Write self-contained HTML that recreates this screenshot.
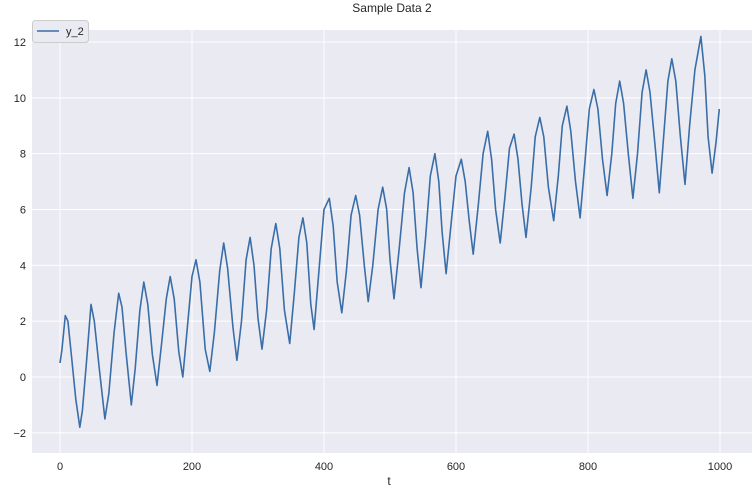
<!DOCTYPE html>
<html><head><meta charset="utf-8">
<style>
body{margin:0;background:#fff;font-family:"Liberation Sans",sans-serif;}
svg text{font-family:"Liberation Sans",sans-serif;fill:#262626;}
</style></head>
<body>
<svg id="chart" width="755" height="491" viewBox="0 0 755 491" xmlns="http://www.w3.org/2000/svg">
<rect x="32" y="30" width="720" height="423" fill="#EAEAF2"/>
<g id="grid"></g>
<g id="ticks"></g>
<path id="line" fill="none" stroke="#3A6EA8" stroke-width="1.6" stroke-linejoin="round"/>
<text x="392" y="12" text-anchor="middle" font-size="12">Sample Data 2</text>
<text x="389" y="485" text-anchor="middle" font-size="12">t</text>
<g>
<rect x="32.5" y="20.5" width="56" height="22" rx="3" fill="#EAEAF2" stroke="#ccc"/>
<line x1="37" y1="31" x2="59" y2="31" stroke="#3A6EA8" stroke-width="1.6"/>
<text x="66" y="35" font-size="11">y_2</text>
</g>
</svg>
<script>
const tValues=[0,3,8,12,18,24,30,34,40,47,52,60,68,74,82,89,94,100,108,114,121,127,133,140,147,154,161,167,173,180,186,193,200,206,212,220,227,234,242,248,254,262,268,275,282,288,294,300,306,313,320,327,333,340,348,355,362,368,374,380,385,393,400,408,414,420,427,434,441,448,454,461,467,474,482,489,495,500,506,514,522,529,535,541,547,554,561,568,574,579,585,593,600,608,614,620,626,634,641,648,654,660,667,674,681,688,694,700,706,714,720,727,733,740,748,755,761,768,774,781,788,795,802,809,815,822,829,836,842,848,854,861,868,875,882,888,894,902,908,914,921,927,933,940,947,954,962,971,977,982,988,994,999];
const yValues=[0.5,1.0,2.2,2.0,0.6,-0.8,-1.8,-1.2,0.5,2.6,2.0,0.2,-1.5,-0.6,1.6,3.0,2.5,0.9,-1.0,0.3,2.4,3.4,2.6,0.8,-0.3,1.2,2.8,3.6,2.8,0.9,0.0,1.8,3.6,4.2,3.4,1.0,0.2,1.6,3.8,4.8,3.9,1.8,0.6,2.0,4.2,5.0,4.0,2.1,1.0,2.4,4.6,5.5,4.6,2.4,1.2,3.0,5.0,5.7,4.8,2.6,1.7,4.0,6.0,6.4,5.4,3.4,2.3,3.8,5.8,6.5,5.8,4.0,2.7,4.0,6.0,6.8,6.0,4.2,2.8,4.6,6.6,7.5,6.6,4.6,3.2,5.0,7.2,8.0,7.0,5.2,3.7,5.6,7.2,7.8,7.0,5.6,4.4,6.2,8.0,8.8,7.8,6.0,4.8,6.4,8.2,8.7,7.8,6.2,5.0,6.8,8.6,9.3,8.6,6.8,5.6,7.2,9.0,9.7,8.8,7.0,5.7,7.6,9.6,10.3,9.6,7.8,6.5,8.0,9.8,10.6,9.8,8.0,6.4,8.0,10.2,11.0,10.2,8.2,6.6,8.4,10.6,11.4,10.6,8.6,6.9,9.0,11.0,12.2,10.8,8.6,7.3,8.4,9.6];
const xTicks=[0,200,400,600,800,1000];
const yTicks=[-2,0,2,4,6,8,10,12];
const X0=32,X1=752,Y0=30,Y1=453;
function xs(t){return 60+(t-0)*(720-60)/1000;}
function ys(v){return 377-v*(377-42)/12;}
const NS="http://www.w3.org/2000/svg";
const grid=document.getElementById('grid'),ticks=document.getElementById('ticks');
xTicks.forEach(t=>{
 const l=document.createElementNS(NS,'line');
 l.setAttribute('x1',xs(t));l.setAttribute('x2',xs(t));l.setAttribute('y1',Y0);l.setAttribute('y2',Y1);
 l.setAttribute('stroke','#fff');l.setAttribute('stroke-width','1');
 
 
 grid.appendChild(l);
 const tx=document.createElementNS(NS,'text');
 tx.setAttribute('x',xs(t));tx.setAttribute('y',470);tx.setAttribute('text-anchor','middle');tx.setAttribute('font-size','11');
 tx.textContent=t;
 
 
 ticks.appendChild(tx);
});
yTicks.forEach(v=>{
 const l=document.createElementNS(NS,'line');
 l.setAttribute('x1',X0);l.setAttribute('x2',X1);l.setAttribute('y1',ys(v));l.setAttribute('y2',ys(v));
 l.setAttribute('stroke','#fff');l.setAttribute('stroke-width','1');
 
 
 grid.appendChild(l);
 const tx=document.createElementNS(NS,'text');
 tx.setAttribute('x',26);tx.setAttribute('y',ys(v)+4);tx.setAttribute('text-anchor','end');tx.setAttribute('font-size','11');
 tx.textContent=v<0?'\u2212'+(-v):v;
 
 
 ticks.appendChild(tx);
});
document.getElementById('line').setAttribute('d',tValues.map((t,i)=>(i?'L':'M')+xs(t).toFixed(1)+','+ys(yValues[i]).toFixed(1)).join(''));
</script>
</body></html>
